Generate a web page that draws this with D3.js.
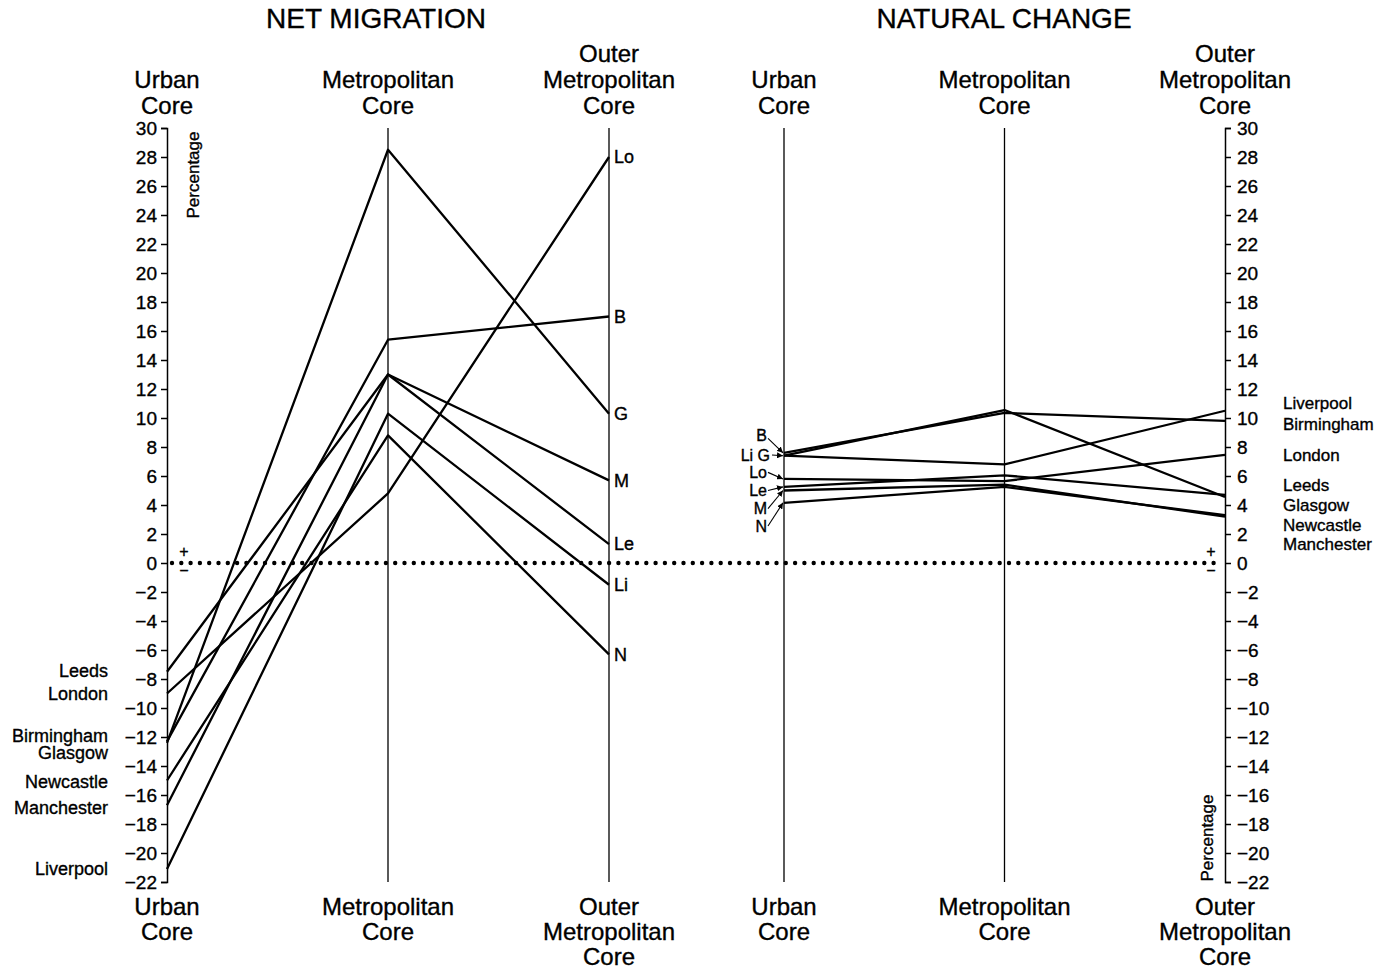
<!DOCTYPE html>
<html>
<head>
<meta charset="utf-8">
<script src="https://cdn.jsdelivr.net/npm/d3@7"></script>
<style>
  body { margin: 0; background: #fff; }
  text { font-family: "Liberation Sans", Arial, sans-serif; fill: #000; stroke: #000; stroke-width: 0.35px; }
</style>
</head>
<body>
<script>
// zones along each panel
const zones = ["Urban Core", "Metropolitan Core", "Outer Metropolitan Core"];
const zoneLines = [["Urban", "Core"], ["Metropolitan", "Core"], ["Outer", "Metropolitan", "Core"]];

const cities = ["London", "Birmingham", "Glasgow", "Manchester", "Leeds", "Liverpool", "Newcastle"];
const abbrev = ["Lo", "B", "G", "M", "Le", "Li", "N"];

// net migration, % (urban core, metropolitan core, outer metropolitan core)
const netUrban = [-9.0, -12.3, -12.4, -16.7, -7.5, -21.1, -15.0];
const netMetro = [4.8, 15.4, 28.5, 13.0, 13.0, 10.3, 8.8];
const netOuter = [28.0, 17.0, 10.3, 5.7, 1.3, -1.5, -6.3];

// natural change, %
const natUrban = [5.8, 7.6, 7.4, 5.0, 5.25, 7.4, 4.15];
const natMetro = [5.65, 10.35, 10.55, 5.4, 6.05, 6.8, 5.25];
const natOuter = [7.45, 9.8, 4.55, 3.2, 4.7, 10.5, 3.3];

const tickValues = [30, 28, 26, 24, 22, 20, 18, 16, 14, 12, 10, 8, 6, 4, 2, 0,
  -2, -4, -6, -8, -10, -12, -14, -16, -18, -20, -22];

// city name labels beside the outer axes (placed in value units)
const netNameOrder = ["Leeds", "London", "Birmingham", "Glasgow", "Newcastle", "Manchester", "Liverpool"];
const netNameAt = [-7.4, -9.0, -11.9, -13.1, -15.1, -16.9, -21.1];
const natNameOrder = ["Liverpool", "Birmingham", "London", "Leeds", "Glasgow", "Newcastle", "Manchester"];
const natNameAt = [11.0, 9.6, 7.45, 5.35, 4.0, 2.65, 1.3];

// abbreviation leaders on the natural change urban core
const natTags = ["B", "Li G", "Lo", "Le", "M", "N"];
const natTagCity = ["Birmingham", "Glasgow", "London", "Leeds", "Manchester", "Newcastle"];
const natTagAt = [8.8, 7.45, 6.25, 5.0, 3.75, 2.55];

const width = 1387;
const height = 971;

const y = d3.scaleLinear().domain([-22, 30]).range([882, 128]);
const xNet = d3.scalePoint().domain(zones).range([167, 609]);
const xNat = d3.scalePoint().domain(zones).range([784, 1225]);

const svg = d3.select("body").append("svg")
    .attr("width", width)
    .attr("height", height)
    .attr("viewBox", [0, 0, width, height]);

svg.append("defs").append("marker")
    .attr("id", "arrow")
    .attr("viewBox", "0 0 10 10")
    .attr("refX", 10).attr("refY", 5)
    .attr("markerWidth", 6).attr("markerHeight", 6)
    .attr("markerUnits", "userSpaceOnUse")
    .attr("orient", "auto")
    .append("path")
    .attr("d", "M0,0L10,5L0,10z")
    .attr("fill", "#000");

const fmt = d => d < 0 ? "\u2212" + (-d) : String(d);

// titles
svg.append("text").attr("x", 376).attr("y", 28).attr("text-anchor", "middle")
    .style("font-size", "28px").text("NET MIGRATION");
svg.append("text").attr("x", 1004).attr("y", 28).attr("text-anchor", "middle")
    .style("font-size", "28px").text("NATURAL CHANGE");

// column headers, top and bottom
function headers(x) {
  zones.forEach((z, j) => {
    const lines = zoneLines[j];
    lines.forEach((t, k) => {
      svg.append("text")
          .attr("x", x(z))
          .attr("y", 114 - (lines.length - 1 - k) * 26)
          .attr("text-anchor", "middle")
          .style("font-size", "24px")
          .text(t);
      svg.append("text")
          .attr("x", x(z))
          .attr("y", 915 + k * 25)
          .attr("text-anchor", "middle")
          .style("font-size", "24px")
          .text(t);
    });
  });
}
headers(xNet);
headers(xNat);

// plain vertical axes for the inner zones
const inner = [[xNet, zones[1]], [xNet, zones[2]], [xNat, zones[0]], [xNat, zones[1]]];
svg.append("g")
    .attr("stroke", "#000")
    .attr("stroke-width", 1.3)
    .selectAll("line")
    .data(inner)
    .join("line")
    .attr("x1", d => d[0](d[1])).attr("x2", d => d[0](d[1]))
    .attr("y1", y(30)).attr("y2", y(-22));

// scale axes
function styleAxis(g) {
  g.attr("font-family", null).attr("font-size", null);
  g.selectAll("text").style("font-size", "19px");
  g.selectAll("path, line").attr("stroke-width", 1.5);
}
svg.append("g")
    .attr("transform", `translate(${xNet(zones[0])},0)`)
    .call(d3.axisLeft(y).tickValues(tickValues).tickSize(6).tickPadding(4).tickFormat(fmt))
    .call(styleAxis);
svg.append("g")
    .attr("transform", `translate(${xNat(zones[2])},0)`)
    .call(d3.axisRight(y).tickValues(tickValues).tickSize(6).tickPadding(6).tickFormat(fmt))
    .call(styleAxis);

// zero line
svg.append("line")
    .attr("x1", xNet(zones[0]) + 5).attr("x2", xNat(zones[2]) - 8)
    .attr("y1", y(0)).attr("y2", y(0))
    .attr("stroke", "#000")
    .attr("stroke-width", 4.4)
    .attr("stroke-linecap", "round")
    .attr("stroke-dasharray", "0 9.3");

// +/- signs
[184, 1211].forEach(px => {
  svg.append("text").attr("x", px).attr("y", y(0) - 6).attr("text-anchor", "middle")
      .style("font-size", "16px").text("+");
  svg.append("text").attr("x", px).attr("y", y(0) + 13).attr("text-anchor", "middle")
      .style("font-size", "16px").text("\u2212");
});

// Percentage labels
svg.append("text")
    .attr("transform", `translate(199,175) rotate(-90)`)
    .attr("text-anchor", "middle")
    .style("font-size", "17px")
    .text("Percentage");
svg.append("text")
    .attr("transform", `translate(1213,838) rotate(-90)`)
    .attr("text-anchor", "middle")
    .style("font-size", "17px")
    .text("Percentage");

// data lines
const line = d3.line();
function drawPanel(x, u, m, o) {
  svg.append("g")
      .attr("fill", "none")
      .attr("stroke", "#000")
      .attr("stroke-width", 2.3)
      .attr("stroke-linejoin", "round")
      .selectAll("path")
      .data(cities.map((c, i) => [u[i], m[i], o[i]]))
      .join("path")
      .attr("d", vals => line(vals.map((v, j) => [x(zones[j]), y(v)])));
}
drawPanel(xNet, netUrban, netMetro, netOuter);
drawPanel(xNat, natUrban, natMetro, natOuter);

// net migration: city names on the left, abbreviations at outer core
svg.append("g")
    .selectAll("text")
    .data(netNameOrder)
    .join("text")
    .attr("x", 108)
    .attr("y", (d, i) => y(netNameAt[i]))
    .attr("dy", "0.35em")
    .attr("text-anchor", "end")
    .style("font-size", "18px")
    .text(d => d);

svg.append("g")
    .selectAll("text")
    .data(abbrev)
    .join("text")
    .attr("x", xNet(zones[2]) + 5)
    .attr("y", (d, i) => y(netOuter[i]))
    .attr("dy", "0.35em")
    .style("font-size", "18px")
    .text(d => d);

// natural change: names on the right
svg.append("g")
    .selectAll("text")
    .data(natNameOrder)
    .join("text")
    .attr("x", 1283)
    .attr("y", (d, i) => y(natNameAt[i]))
    .attr("dy", "0.35em")
    .style("font-size", "17px")
    .text(d => d);

// natural change: tags with leaders on the left
const ux = xNat(zones[0]);
natTags.forEach((t, k) => {
  const ty = y(natTagAt[k]);
  const target = y(natUrban[cities.indexOf(natTagCity[k])]);
  svg.append("text")
      .attr("x", t === "Li G" ? 770 : 767)
      .attr("y", ty)
      .attr("dy", "0.35em")
      .attr("text-anchor", "end")
      .style("font-size", "16px")
      .text(t);
  svg.append("line")
      .attr("x1", t === "Li G" ? 772 : 768).attr("y1", ty + (t === "B" ? 3 : 0))
      .attr("x2", ux - 1).attr("y2", target)
      .attr("stroke", "#000")
      .attr("stroke-width", 1.1)
      .attr("marker-end", "url(#arrow)");
});
</script>
</body>
</html>
